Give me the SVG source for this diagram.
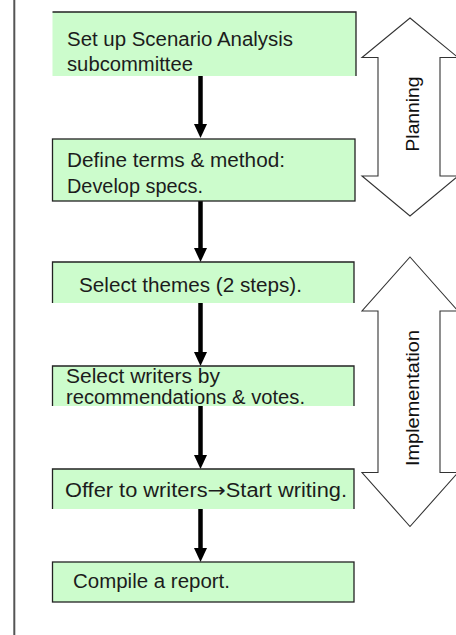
<svg xmlns="http://www.w3.org/2000/svg" width="456" height="635" viewBox="0 0 456 635">
<style>
.box{fill:#ccfccc;stroke:none}
.bd{fill:none;stroke:#222;stroke-width:1.3}
.t{font-family:"Liberation Sans","DejaVu Sans",sans-serif;font-size:20px;fill:#1c1c1c}
.dbl{fill:#fff;stroke:#333;stroke-width:1.1;stroke-linejoin:miter}
.lbl{font-family:"Liberation Sans","DejaVu Sans",sans-serif;font-size:19px;fill:#111;text-anchor:middle}
.conn{stroke:#000;stroke-width:4.5;fill:none;marker-end:url(#ah)}
</style>
<defs>
<marker id="ah" markerUnits="userSpaceOnUse" markerWidth="15" markerHeight="14" refX="2" refY="6.5" orient="auto">
<path d="M0,0 L14,6.5 L0,13 z" fill="#000"/>
</marker>
</defs>
<rect width="456" height="635" fill="#fff"/>
<line x1="14.3" y1="0" x2="14.3" y2="635" stroke="#555" stroke-width="2"/>

<g id="planning">
<polygon class="dbl" points="410,18 458,57.5 440,57.5 440,176 458,176 410,216 362,176 378,176 378,57.5 362,57.5"/>
<text class="lbl" transform="translate(418.5,114) rotate(-90)" textLength="75" lengthAdjust="spacingAndGlyphs">Planning</text>
</g>

<g id="implementation">
<polygon class="dbl" points="410,257 458,311 440,311 440,472.5 458,472.5 410,526.5 362,472.5 378,472.5 378,311 362,311"/>
<text class="lbl" transform="translate(418.5,398) rotate(-90)" textLength="136" lengthAdjust="spacingAndGlyphs">Implementation</text>
</g>

<g id="connectors">
<line class="conn" x1="200.5" y1="76" x2="200.5" y2="126"/>
<line class="conn" x1="200.5" y1="201" x2="200.5" y2="250"/>
<line class="conn" x1="200.5" y1="303" x2="200.5" y2="354"/>
<line class="conn" x1="200.5" y1="406" x2="200.5" y2="457"/>
<line class="conn" x1="200.5" y1="509" x2="200.5" y2="550"/>
</g>

<g id="n1">
<rect class="box" x="52.5" y="12" width="303.5" height="64"/>
<path class="bd" d="M52.5,12 H356 V76"/>
<text class="t" x="67" y="46" textLength="226" lengthAdjust="spacingAndGlyphs">Set up Scenario Analysis</text>
<text class="t" x="67" y="70.5" textLength="126" lengthAdjust="spacingAndGlyphs">subcommittee</text>
</g>

<g id="n2">
<rect class="box" x="52.5" y="139" width="302.5" height="62"/>
<rect class="bd" x="52.5" y="139" width="302.5" height="62"/>
<text class="t" x="67" y="166.5" textLength="218" lengthAdjust="spacingAndGlyphs">Define terms &amp; method:</text>
<text class="t" x="67" y="193" textLength="136" lengthAdjust="spacingAndGlyphs">Develop specs.</text>
</g>

<g id="n3">
<rect class="box" x="52.5" y="262" width="301.5" height="41"/>
<path class="bd" d="M52.5,303 V262 H354 V303"/>
<text class="t" x="79" y="291.5" textLength="223" lengthAdjust="spacingAndGlyphs">Select themes (2 steps).</text>
</g>

<g id="n4">
<rect class="box" x="52.5" y="366" width="301.5" height="40"/>
<path class="bd" d="M52.5,406 V366 H354 V406"/>
<text class="t" x="66" y="382.5" textLength="154" lengthAdjust="spacingAndGlyphs">Select writers by</text>
<text class="t" x="66" y="404" textLength="239" lengthAdjust="spacingAndGlyphs">recommendations &amp; votes.</text>
</g>

<g id="n5">
<rect class="box" x="52.5" y="469" width="301.5" height="40"/>
<path class="bd" d="M52.5,509 V469 H354 V509"/>
<text class="t" x="65" y="496.5" textLength="282" lengthAdjust="spacingAndGlyphs">Offer to writers<tspan font-family="DejaVu Sans">→</tspan>Start writing.</text>
</g>

<g id="n6">
<rect class="box" x="52.5" y="562" width="301.5" height="40"/>
<rect class="bd" x="52.5" y="562" width="301.5" height="40"/>
<text class="t" x="73" y="588" textLength="157" lengthAdjust="spacingAndGlyphs">Compile a report.</text>
</g>
</svg>
